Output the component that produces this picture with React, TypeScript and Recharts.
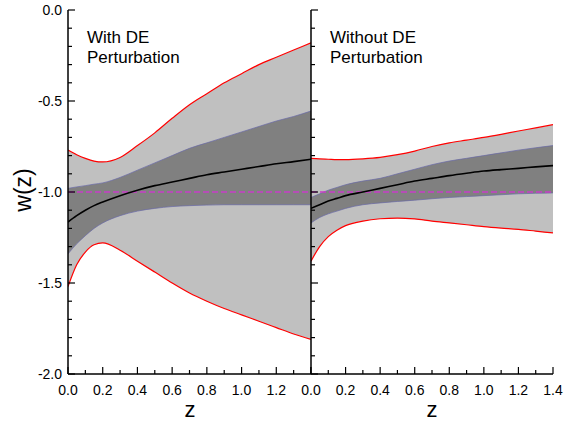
import { Area, ComposedChart, Line, ReferenceLine, XAxis, YAxis } from "recharts";

const zGrid = [0, 0.05, 0.1, 0.15, 0.2, 0.3, 0.4, 0.5, 0.6, 0.7, 0.8, 0.9, 1.0, 1.1, 1.2, 1.3, 1.4];

// left panel: with DE perturbation
const leftRedHi = [-0.77, -0.795, -0.815, -0.83, -0.835, -0.81, -0.745, -0.675, -0.595, -0.52, -0.46, -0.4, -0.35, -0.3, -0.26, -0.22, -0.18];
const leftDarkHi = [-0.98, -0.972, -0.965, -0.957, -0.95, -0.92, -0.88, -0.84, -0.8, -0.76, -0.73, -0.7, -0.67, -0.64, -0.61, -0.585, -0.555];
const leftMid = [-1.165, -1.13, -1.1, -1.075, -1.055, -1.02, -0.99, -0.965, -0.945, -0.925, -0.905, -0.89, -0.875, -0.86, -0.845, -0.833, -0.82];
const leftDarkLo = [-1.34, -1.285, -1.24, -1.2, -1.17, -1.13, -1.105, -1.09, -1.08, -1.075, -1.072, -1.07, -1.07, -1.07, -1.07, -1.07, -1.07];
const leftRedLo = [-1.52, -1.4, -1.33, -1.29, -1.28, -1.32, -1.38, -1.44, -1.5, -1.555, -1.6, -1.64, -1.675, -1.71, -1.745, -1.78, -1.81];

// right panel: without DE perturbation
const rightRedHi = [-0.815, -0.818, -0.82, -0.822, -0.822, -0.818, -0.81, -0.795, -0.775, -0.75, -0.73, -0.715, -0.7, -0.683, -0.665, -0.648, -0.63];
const rightDarkHi = [-1.03, -1.01, -0.99, -0.975, -0.96, -0.94, -0.925, -0.9, -0.875, -0.85, -0.83, -0.815, -0.8, -0.785, -0.77, -0.757, -0.745];
const rightMid = [-1.09, -1.07, -1.05, -1.035, -1.02, -1.0, -0.98, -0.96, -0.94, -0.925, -0.91, -0.897, -0.885, -0.877, -0.87, -0.862, -0.855];
const rightDarkLo = [-1.17, -1.14, -1.12, -1.105, -1.09, -1.07, -1.06, -1.052, -1.045, -1.037, -1.03, -1.025, -1.02, -1.015, -1.01, -1.007, -1.005];
const rightRedLo = [-1.38, -1.3, -1.245, -1.21, -1.185, -1.16, -1.147, -1.143, -1.148, -1.16, -1.17, -1.18, -1.19, -1.198, -1.205, -1.215, -1.225];

const xTicks = [0, 0.1, 0.2, 0.3, 0.4, 0.5, 0.6, 0.7, 0.8, 0.9, 1.0, 1.1, 1.2, 1.3, 1.4];
const yTicks = [-2.0, -1.9, -1.8, -1.7, -1.6, -1.5, -1.4, -1.3, -1.2, -1.1, -1.0, -0.9, -0.8, -0.7, -0.6, -0.5, -0.4, -0.3, -0.2, -0.1, 0.0];
const yMajorTicks = [-2.0, -1.5, -1.0, -0.5, 0.0];
const lcdmW = -1;

const font = "'Liberation Sans', Arial, sans-serif";
const MAJOR = 7;
const MINOR = 4;

const build = (hi: number[], dhi: number[], mid: number[], dlo: number[], lo: number[]) =>
  zGrid.map((z, i) => ({ z, outer: [lo[i], hi[i]], inner: [dlo[i], dhi[i]], mid: mid[i] }));

const leftData = build(leftRedHi, leftDarkHi, leftMid, leftDarkLo, leftRedLo);
const rightData = build(rightRedHi, rightDarkHi, rightMid, rightDarkLo, rightRedLo);

const isMajorX = (v: number) => Math.round(v * 10) % 2 === 0;
const isMajorY = (v: number) => Math.round(v * 10) % 5 === 0;

const makeBottomTick = (skipLast: boolean) =>
  function BottomTick(props: any) {
    const { x, y, payload } = props;
    const major = isMajorX(payload.value);
    const showLabel = major && !(skipLast && payload.value >= 1.4);
    return (
      <g>
        <line x1={x} x2={x} y1={y} y2={y - (major ? MAJOR : MINOR)} stroke="#000" strokeWidth={1.2} />
        {showLabel && (
          <text x={x} y={y + 21} textAnchor="middle" fontSize={14} fontFamily={font} fill="#000">
            {payload.value.toFixed(1)}
          </text>
        )}
      </g>
    );
  };

const LeftBottomTick = makeBottomTick(true);
const RightBottomTick = makeBottomTick(false);

function TopTick(props: any) {
  const { x, y, payload } = props;
  const major = isMajorX(payload.value);
  return <line x1={x} x2={x} y1={y} y2={y + (major ? MAJOR : MINOR)} stroke="#000" strokeWidth={1.2} />;
}

function LeftTick(props: any) {
  const { x, y, payload } = props;
  const major = isMajorY(payload.value);
  return (
    <g>
      <line x1={x} x2={x + (major ? MAJOR : MINOR)} y1={y} y2={y} stroke="#000" strokeWidth={1.2} />
      {major && (
        <text x={x - 6} y={y + 5} textAnchor="end" fontSize={14} fontFamily={font} fill="#000">
          {payload.value.toFixed(1)}
        </text>
      )}
    </g>
  );
}

function LeftTickPlain(props: any) {
  const { x, y, payload } = props;
  const major = isMajorY(payload.value);
  return <line x1={x} x2={x + (major ? MAJOR : MINOR)} y1={y} y2={y} stroke="#000" strokeWidth={1.2} />;
}

function RightTick(props: any) {
  const { x, y, payload } = props;
  const major = isMajorY(payload.value);
  return <line x1={x} x2={x - (major ? MAJOR : MINOR)} y1={y} y2={y} stroke="#000" strokeWidth={1.2} />;
}

const axisLine = { stroke: "#000", strokeWidth: 1.5 };

function Panel({ data, width, margin, leftAxisWidth, leftTick, rightTicks, bottomTick }: any) {
  return (
    <ComposedChart width={width} height={421} data={data} margin={margin}>
      <XAxis
        xAxisId="b"
        dataKey="z"
        type="number"
        domain={[0, 1.4]}
        ticks={xTicks}
        allowDataOverflow
        height={47}
        tickSize={0}
        tickMargin={0}
        tick={bottomTick}
        axisLine={axisLine}
        interval={0}
      />
      <XAxis
        xAxisId="t"
        dataKey="z"
        type="number"
        orientation="top"
        domain={[0, 1.4]}
        ticks={xTicks}
        allowDataOverflow
        height={0}
        tickSize={0}
        tickMargin={0}
        tick={TopTick}
        axisLine={axisLine}
        interval={0}
      />
      <YAxis
        yAxisId="l"
        type="number"
        domain={[-2, 0]}
        ticks={yTicks}
        allowDataOverflow
        width={leftAxisWidth}
        tickSize={0}
        tickMargin={0}
        tick={leftTick}
        axisLine={axisLine}
        interval={0}
      />
      <YAxis
        yAxisId="r"
        orientation="right"
        type="number"
        domain={[-2, 0]}
        ticks={rightTicks}
        allowDataOverflow
        width={0}
        tickSize={0}
        tickMargin={0}
        tick={RightTick}
        axisLine={axisLine}
        interval={0}
      />
      <Area
        xAxisId="b"
        yAxisId="l"
        dataKey="outer"
        type="monotone"
        fill="#c0c0c0"
        fillOpacity={1}
        stroke="#ff0000"
        strokeWidth={1.2}
        isAnimationActive={false}
      />
      <Area
        xAxisId="b"
        yAxisId="l"
        dataKey="inner"
        type="monotone"
        fill="#808080"
        fillOpacity={1}
        stroke="#6868a8"
        strokeWidth={0.7}
        isAnimationActive={false}
      />
      <ReferenceLine xAxisId="b" yAxisId="l" y={lcdmW} stroke="#c83cc8" strokeWidth={1.3} strokeDasharray="6 3" />
      <Line
        xAxisId="b"
        yAxisId="l"
        dataKey="mid"
        type="monotone"
        stroke="#000"
        strokeWidth={1.6}
        dot={false}
        isAnimationActive={false}
      />
    </ComposedChart>
  );
}

export default function App() {
  return (
    <div style={{ position: "absolute", left: 0, top: 0, width: 570, height: 421, background: "#fff" }}>
      <div style={{ position: "absolute", left: 0, top: 0 }}>
        <Panel
          data={leftData}
          width={311}
          margin={{ top: 10, right: 0, bottom: 0, left: 0 }}
          leftAxisWidth={68}
          leftTick={LeftTick}
          rightTicks={yMajorTicks}
          bottomTick={LeftBottomTick}
        />
      </div>
      <div style={{ position: "absolute", left: 300, top: 0 }}>
        <Panel
          data={rightData}
          width={270}
          margin={{ top: 10, right: 17, bottom: 0, left: 0 }}
          leftAxisWidth={11}
          leftTick={LeftTickPlain}
          rightTicks={yTicks}
          bottomTick={RightBottomTick}
        />
      </div>
      <svg width={570} height={421} style={{ position: "absolute", left: 0, top: 0, pointerEvents: "none" }}>
        <text x={87} y={43} fontSize={17} fontFamily={font} fill="#000">With DE</text>
        <text x={87} y={63} fontSize={17} fontFamily={font} fill="#000">Perturbation</text>
        <text x={330} y={43} fontSize={17} fontFamily={font} fill="#000">Without DE</text>
        <text x={330} y={63} fontSize={17} fontFamily={font} fill="#000">Perturbation</text>
        <text
          x={23}
          y={190}
          transform="rotate(-90 23 190)"
          textAnchor="middle"
          dominantBaseline="central"
          fontSize={23}
          fontFamily={font}
          fill="#000"
        >
          w(z)
        </text>
        <text x={190} y={417} textAnchor="middle" fontSize={22} fontFamily={font} fill="#000">z</text>
        <text x={432} y={417} textAnchor="middle" fontSize={22} fontFamily={font} fill="#000">z</text>
      </svg>
    </div>
  );
}
